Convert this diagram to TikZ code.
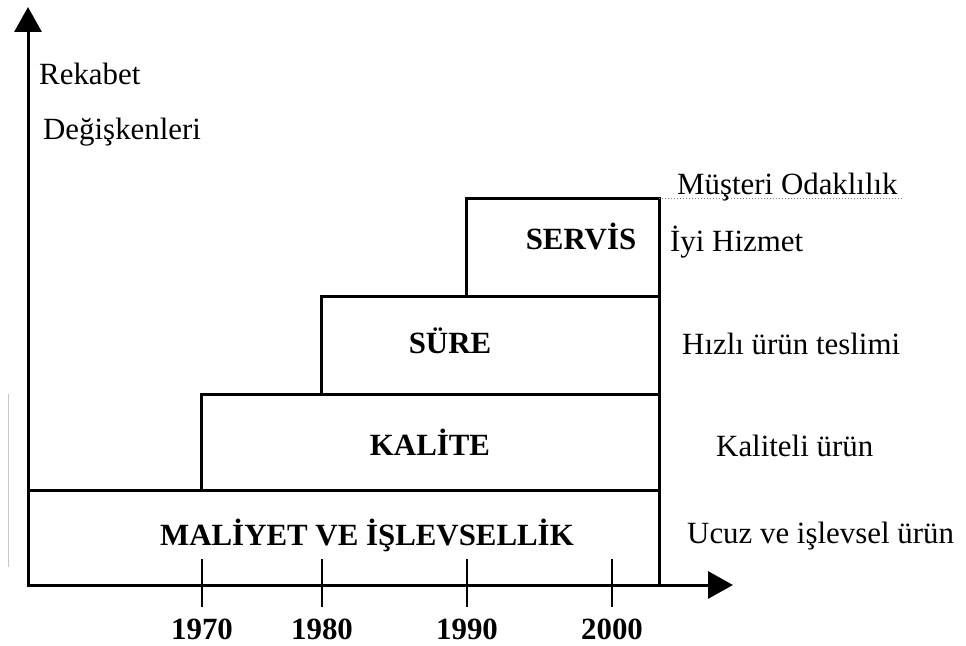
\documentclass[tikz,border=0pt]{standalone}
\usepackage{fontspec}
\setmainfont{Liberation Serif}
\usetikzlibrary{arrows.meta}
\begin{document}
\begin{tikzpicture}[x=1bp,y=-1bp,
  axis/.style={line width=3bp,-{Triangle[length=25bp,width=27bp]}},
  band/.style={draw,line width=3bp},
  tick/.style={line width=2.8bp},
  label/.style={font=\fontsize{31}{34}\selectfont,inner sep=0pt,anchor=base west},
  head/.style={font=\fontsize{31}{34}\selectfont\bfseries,inner sep=0pt,anchor=base}]
\useasboundingbox (0,0) rectangle (966,646);

% axes
\coordinate (O) at (28,585);
\coordinate (ytop) at (28,7);
\coordinate (xend) at (733,585);
\draw[axis] (O) -- (ytop);
\draw[axis] (O) -- (xend);

% faint scan line on the left
\draw[gray!45,line width=0.8bp] (8,394) -- (8,567);

% stacked bands
\draw[band] (28,490) rectangle (659,585);
\draw[band] (201,394) rectangle (659,490);
\draw[band] (321,296) rectangle (659,394);
\draw[band] (466,199) rectangle (659,296);

% time ticks and years
\foreach \x/\yr in {202/1970,322/1980,467/1990,612/2000}{
  \draw[tick] (\x,559) coordinate (t\yr) -- (\x,607);
  \node[head] (y\yr) at (\x,639) {\yr};
}

% band titles
\node[head] (servis) at (581,250) {SERVİS};
\node[head] (sure) at (450,353) {SÜRE};
\node[head] (kalite) at (430,455) {KALİTE};
\node[head] (maliyet) at (367,545) {MALİYET VE İŞLEVSELLİK};

% axis title
\node[label] (rek) at (39,85) {Rekabet};
\node[label] (deg) at (43,140) {Değişkenleri};

% right-hand notes
\node[label] (must) at (677,195) {Müşteri Odaklılık};
\draw[gray,line width=1bp,dotted] (659,199) -- (903,199);
\node[label] (iyi) at (670,252) {İyi Hizmet};
\node[label] (hizli) at (682,354) {Hızlı ürün teslimi};
\node[label] (kal) at (716,456) {Kaliteli ürün};
\node[label] (ucuz) at (687,543) {Ucuz ve işlevsel ürün};
\end{tikzpicture}
\end{document}
